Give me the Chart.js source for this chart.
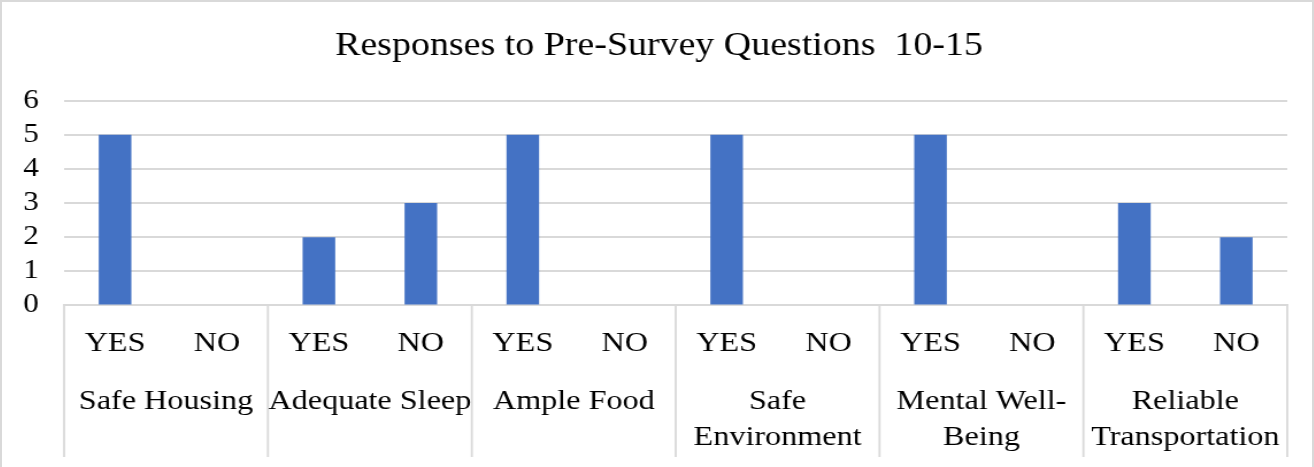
<!DOCTYPE html>
<html>
<head>
<meta charset="utf-8">
<script src="https://cdn.jsdelivr.net/npm/chart.js@4.4.1/dist/chart.umd.min.js"></script>
<style>
  html, body { margin: 0; padding: 0; background: #fff; }
  #frame {
    position: relative;
    width: 1314px;
    height: 467px;
    box-sizing: border-box;
    border: 2px solid #d9d9d9;
    border-bottom: none;
    overflow: hidden;
  }
  /* the reference is stretched sideways, so the canvas is drawn narrower and widened by css */
  #chart {
    position: absolute;
    left: 0;
    top: 0;
    width: 1314px !important;
    height: 467px !important;
  }
</style>
</head>
<body>
<div id="frame"><canvas id="chart" width="1143" height="467"></canvas></div>
<script>
// questions 10-15, each answered YES or NO
const groups = [
  ["Safe Housing"],
  ["Adequate Sleep"],
  ["Ample Food"],
  ["Safe", "Environment"],
  ["Mental Well-", "Being"],
  ["Reliable", "Transportation"],
];
const answers = ["YES", "NO"];
const yesCounts = [5, 2, 5, 5, 5, 3];
const noCounts = [0, 3, 0, 0, 0, 2];
const yTicks = [0, 1, 2, 3, 4, 5, 6];

const labels = [];
const counts = [];
groups.forEach((g, i) => {
  labels.push(answers[0], answers[1]);
  counts.push(yesCounts[i], noCounts[i]);
});

const serif = "'Liberation Serif', 'Times New Roman', serif";

//draws the group dividers and the second row of category labels
const groupAxis = {
  id: "groupAxis",
  afterDraw(chart) {
    const ctx = chart.ctx;
    const x = chart.scales.x;
    const top = chart.chartArea.bottom;
    const half = (x.getPixelForValue(1) - x.getPixelForValue(0)) / 2;
    ctx.save();
    ctx.strokeStyle = "#d9d9d9";
    ctx.lineWidth = 1.8;
    for (let i = 0; i <= groups.length; i++) {
      let px = i < groups.length ? x.getPixelForValue(i * 2) - half : x.getPixelForValue(i * 2 - 1) + half;
      ctx.beginPath();
      ctx.moveTo(px, top);
      ctx.lineTo(px, 455);
      ctx.stroke();
    }
    ctx.fillStyle = "#000";
    ctx.font = "28px " + serif;
    ctx.textAlign = "center";
    ctx.textBaseline = "middle";
    groups.forEach((lines, i) => {
      const cx = (x.getPixelForValue(i * 2) + x.getPixelForValue(i * 2 + 1)) / 2;
      lines.forEach((t, j) => ctx.fillText(t, cx, 400 + j * 35.5));
    });
    ctx.restore();
  },
};

new Chart(document.getElementById("chart"), {
  type: "bar",
  plugins: [groupAxis],
  data: {
    labels: labels,
    datasets: [
      {
        data: counts,
        backgroundColor: "#4472c4",
        barPercentage: 0.32,
        categoryPercentage: 1,
      },
    ],
  },
  options: {
    responsive: false,
    animation: false,
    devicePixelRatio: 1,
    layout: { padding: { left: 0, right: 0, top: 0, bottom: 96 } },
    plugins: {
      legend: { display: false },
      tooltip: { enabled: false },
      title: {
        display: true,
        text: "Responses to Pre-Survey Questions  10-15",
        color: "#000",
        font: { family: serif, size: 33, weight: "normal" },
        padding: { top: 25, bottom: 34 },
      },
    },
    scales: {
      x: {
        grid: { display: false },
        border: { display: true, color: "#d9d9d9", width: 2 },
        ticks: {
          color: "#000",
          font: { family: serif, size: 28 },
          padding: 13,
          maxRotation: 0,
          autoSkip: false,
        },
      },
      y: {
        min: 0,
        max: 6,
        afterBuildTicks: (axis) => {
          axis.ticks = yTicks.map((v) => ({ value: v }));
        },
        afterFit: (axis) => {
          axis.width = 54;
        },
        grid: { color: "#d9d9d9", lineWidth: 2, drawTicks: false },
        border: { display: false },
        ticks: {
          color: "#000",
          font: { family: serif, size: 27 },
          padding: 22,
          autoSkip: false,
        },
      },
      // empty margin on the right, keeps the title centred on the whole canvas
      right: {
        position: "right",
        grid: { display: false },
        border: { display: false },
        ticks: { display: false },
        afterFit: (axis) => {
          axis.width = 25;
        },
      },
    },
  },
});
</script>
</body>
</html>
